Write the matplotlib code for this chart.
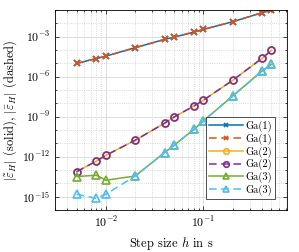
import matplotlib
matplotlib.use("Agg")
import matplotlib.pyplot as plt
from matplotlib.ticker import FixedLocator, LogLocator, NullFormatter

plt.rcParams['font.family'] = 'serif'
plt.rcParams['font.serif'] = ['cmr10', 'DejaVu Serif']
plt.rcParams['mathtext.fontset'] = 'cm'
plt.rcParams['axes.formatter.use_mathtext'] = True

# step sizes
h = [0.005, 0.008, 0.01, 0.02, 0.04, 0.05, 0.08, 0.1, 0.2, 0.4, 0.5]

# errors
ga1_tilde = [1.0e-5, 2.3e-5, 3.5e-5, 1.5e-4, 6.3e-4, 9.3e-4, 2.2e-3, 3.5e-3, 1.33e-2, 6.3e-2, 1.0e-1]
ga1_bar = [1.0e-5, 2.3e-5, 3.5e-5, 1.5e-4, 6.3e-4, 9.3e-4, 2.2e-3, 3.5e-3, 1.33e-2, 6.3e-2, 1.0e-1]
ga2_tilde = [7.4e-14, 4.7e-13, 1.26e-12, 1.7e-11, 3.2e-10, 9.3e-10, 6.3e-9, 1.7e-8, 5.3e-7, 2.35e-5, 9.3e-5]
ga2_bar = [7.4e-14, 4.7e-13, 1.26e-12, 1.7e-11, 3.2e-10, 9.3e-10, 6.3e-9, 1.7e-8, 5.3e-7, 2.35e-5, 9.3e-5]
ga3_tilde = [3.2e-14, 4.0e-14, 1.7e-14, 3.5e-14, 2.0e-12, 7.0e-12, 1.1e-10, 4.7e-10, 3.5e-8, 2.6e-6, 8.3e-6]
ga3_bar = [1.5e-15, 7.4e-16, 1.5e-15, 3.5e-14, 2.0e-12, 7.0e-12, 1.1e-10, 4.7e-10, 3.5e-8, 2.6e-6, 8.3e-6]

labels = ['Ga(1)', 'Ga(1)', 'Ga(2)', 'Ga(2)', 'Ga(3)', 'Ga(3)']
colors = ['#0072BD', '#D95319', '#EDB120', '#7E2F8E', '#77AC30', '#4DBEEE']

fig = plt.figure(figsize=(2.99, 2.52), dpi=100)
ax = fig.add_axes([0.184, 0.167, 0.775, 0.793])

series = [ga1_tilde, ga1_bar, ga2_tilde, ga2_bar, ga3_tilde, ga3_bar]
markers = ['x', 'x', 'o', 'o', '^', '^']
msizes = [4, 4, 5, 5, 5.5, 5.5]
for i, (y, m) in enumerate(zip(series, markers)):
    ls = '-' if i % 2 == 0 else (0, (5, 3))
    ax.plot(h, y, linestyle=ls, color=colors[i], marker=m, markersize=msizes[i],
            markerfacecolor='none', markeredgewidth=1.2, linewidth=1.1, label=labels[i])

ax.set_xscale('log')
ax.set_yscale('log')
ax.set_xlim(0.003, 0.72)
ax.set_ylim(1e-16, 1e-1)

ax.yaxis.set_major_locator(FixedLocator([1e-15, 1e-12, 1e-9, 1e-6, 1e-3]))
ax.yaxis.set_minor_locator(FixedLocator([10.0 ** k for k in range(-16, 0)]))
ax.yaxis.set_minor_formatter(NullFormatter())
ax.xaxis.set_major_locator(FixedLocator([1e-2, 1e-1]))
ax.xaxis.set_minor_locator(LogLocator(base=10, subs=range(2, 10), numticks=20))
ax.xaxis.set_minor_formatter(NullFormatter())

ax.grid(True, which='major', color='#d9d9d9', linewidth=0.6)
ax.grid(True, which='minor', color='#cccccc', linestyle=':', linewidth=0.6)
ax.set_axisbelow(True)
ax.tick_params(which='both', direction='in', top=True, right=True, labelsize=8.5, width=0.5)
ax.tick_params(which='major', length=3)
ax.tick_params(which='minor', length=1.5)
for s in ax.spines.values():
    s.set_linewidth(0.6)

ax.set_xlabel(r'Step size $h$ in s', fontsize=9)
ax.set_ylabel(r'$|\tilde{\varepsilon}_H|$ (solid), $|\bar{\varepsilon}_H|$ (dashed)',
              fontsize=9, labelpad=2)

leg = ax.legend(loc='lower right', bbox_to_anchor=(0.949, 0.0535), fontsize=7.5,
                handlelength=3.2, fancybox=False, edgecolor='#333333', framealpha=1,
                borderpad=0.3, labelspacing=0.15, handletextpad=0.25, borderaxespad=0,
                markerscale=0.8)
leg.get_frame().set_linewidth(0.6)

fig.savefig('out.png', dpi=100)
